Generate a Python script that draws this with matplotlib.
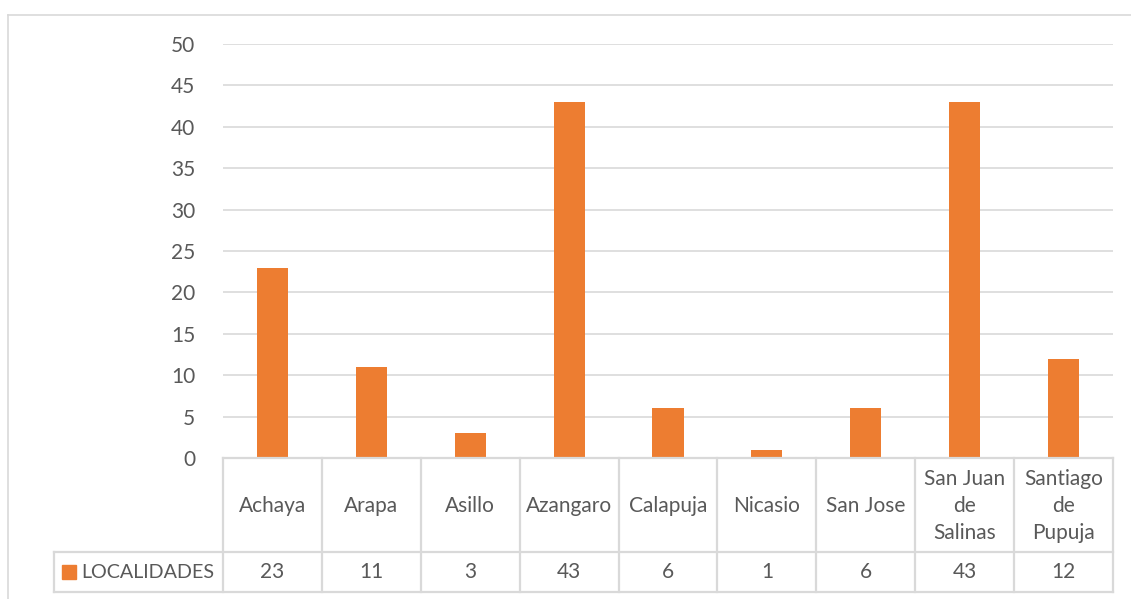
import matplotlib.pyplot as plt

# data
categories = ["Achaya", "Arapa", "Asillo", "Azangaro", "Calapuja", "Nicasio",
              "San Jose", "San Juan\nde\nSalinas", "Santiago\nde\nPupuja"]
values = [23, 11, 3, 43, 6, 1, 6, 43, 12]
series_name = "LOCALIDADES"
yticks = [0, 5, 10, 15, 20, 25, 30, 35, 40, 45, 50]

bar_color = "#ED7D31"
grid_color = "#D9D9D9"
text_color = "#595959"
plt.rcParams['font.family'] = ['Lato', 'DejaVu Sans']
fs = 15

W, H = 1131, 599
fig = plt.figure(figsize=(W / 100, H / 100), dpi=100)

# plot area in pixels
left, right, top, bottom = 223, 1113, 44, 458
ax = fig.add_axes([left / W, 1 - bottom / H, (right - left) / W, (bottom - top) / H])

x = list(range(len(categories)))
ax.bar(x, values, width=0.315, color=bar_color, zorder=3)
ax.set_xlim(-0.5, len(categories) - 0.5)
ax.set_ylim(0, 50)
ax.set_yticks(yticks)
ax.set_yticklabels([str(t) for t in yticks], fontsize=fs, color=text_color)
ax.tick_params(axis='y', length=0, pad=20)
ax.set_xticks([])
ax.grid(axis='y', color=grid_color, linewidth=1.2, zorder=0)
for s in ax.spines.values():
    s.set_visible(False)

# data table below the plot, in pixel coordinates of the figure
def px(xp, yp):
    return xp / W, 1 - yp / H

def hline(y, x0, x1):
    fig.add_artist(plt.Line2D([x0 / W, x1 / W], [1 - y / H, 1 - y / H],
                              color=grid_color, linewidth=1.6))

def vline(xp, y0, y1):
    fig.add_artist(plt.Line2D([xp / W, xp / W], [1 - y0 / H, 1 - y1 / H],
                              color=grid_color, linewidth=1.6))

row1_top, row1_bot, row2_bot = 458, 552, 592
legend_left = 54
col_w = (right - left) / len(categories)

hline(row1_top, left, right)
hline(row1_bot, legend_left, right)
hline(row2_bot, legend_left, right)
vline(legend_left, row1_bot, row2_bot)
for i in range(len(categories) + 1):
    vline(left + i * col_w, row1_top, row2_bot)

for i, (cat, v) in enumerate(zip(categories, values)):
    cx = left + (i + 0.5) * col_w
    fig.text(*px(cx, (row1_top + row1_bot) / 2 + 1), cat, ha='center', va='center',
             fontsize=fs, color=text_color, linespacing=1.42)
    fig.text(*px(cx, (row1_bot + row2_bot) / 2), str(v), ha='center', va='center',
             fontsize=fs, color=text_color)

# legend key in table
fig.add_artist(plt.Rectangle(px(62, 579), 14 / W, 14 / H, color=bar_color))
fig.text(*px(81, (row1_bot + row2_bot) / 2), series_name, ha='left', va='center',
         fontsize=14.2, color=text_color)

# outer chart frame
fig.add_artist(plt.Line2D([8 / W, 1], [1 - 15 / H, 1 - 15 / H], color=grid_color, linewidth=1.2))
fig.add_artist(plt.Line2D([8 / W, 8 / W], [1 - 15 / H, 0], color=grid_color, linewidth=1.2))

fig.savefig("out.png", dpi=100)
